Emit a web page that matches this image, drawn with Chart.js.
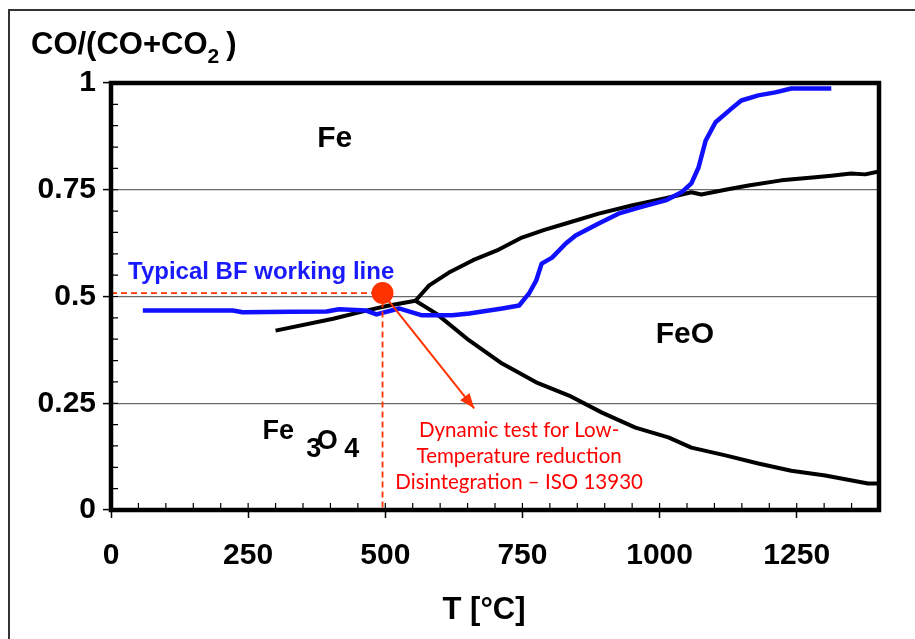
<!DOCTYPE html>
<html>
<head>
<meta charset="utf-8">
<script src="https://cdn.jsdelivr.net/npm/chart.js@4/dist/chart.umd.min.js"></script>
<style>
  html, body { margin: 0; padding: 0; background: #fff; }
  canvas { display: block; }
</style>
</head>
<body>
<canvas id="c" width="915" height="639"></canvas>
<script>
// Phase boundaries of the Fe–O–C system: T [°C] vs CO/(CO+CO2)
const fe3o4FeT = [300, 405, 465, 507, 555];
const fe3o4FeV = [0.420, 0.448, 0.467, 0.479, 0.490];

const feoFeT = [555, 580, 616, 660, 707, 749, 790, 829, 889, 949, 1011, 1058, 1076, 1120, 1162, 1222, 1284, 1313, 1349, 1375, 1400];
const feoFeV = [0.490, 0.526, 0.556, 0.585, 0.610, 0.638, 0.656, 0.671, 0.694, 0.713, 0.730, 0.744, 0.739, 0.750, 0.760, 0.772, 0.779, 0.783, 0.788, 0.786, 0.793];

const fe3o4FeoT = [555, 593, 653, 713, 775, 835, 895, 956, 1016, 1058, 1120, 1180, 1240, 1302, 1380, 1400];
const fe3o4FeoV = [0.490, 0.460, 0.397, 0.343, 0.299, 0.268, 0.228, 0.193, 0.170, 0.146, 0.128, 0.109, 0.092, 0.081, 0.062, 0.062];

// Gas composition along the blast furnace working line
const bfT = [58, 222, 240, 330, 393, 416, 465, 484, 525, 549, 567, 622, 653, 713, 744, 756, 762, 775, 785, 804, 829, 847, 889, 925, 962, 1011, 1040, 1058, 1071, 1084, 1102, 1131, 1149, 1180, 1211, 1240, 1253, 1313];
const bfV = [0.467, 0.467, 0.463, 0.464, 0.465, 0.470, 0.467, 0.458, 0.472, 0.463, 0.456, 0.456, 0.460, 0.472, 0.479, 0.498, 0.507, 0.537, 0.577, 0.591, 0.624, 0.643, 0.671, 0.694, 0.708, 0.725, 0.744, 0.765, 0.802, 0.865, 0.908, 0.940, 0.959, 0.971, 0.978, 0.987, 0.987, 0.987];

// LTD test condition and the arrow pointing to its description
const workPoint = [495, 0.508];
const arrowTip = [662, 0.238];

// Axis ticks
const xTickValues = [0, 250, 500, 750, 1000, 1250];
const yTickValues = [0, 0.25, 0.5, 0.75, 1];

const pts = (xs, ys) => xs.map((x, i) => ({ x, y: ys[i] }));

const FONT = '"Liberation Sans", Arial, sans-serif';
const RED = '#ff3300';

const decor = {
  id: 'decor',
  beforeDraw(chart) {
    const { ctx, width, height } = chart;
    ctx.save();
    ctx.fillStyle = '#fff';
    ctx.fillRect(0, 0, width, height);
    // outer frame
    ctx.strokeStyle = '#333';
    ctx.lineWidth = 2;
    ctx.beginPath();
    ctx.moveTo(9, height);
    ctx.lineTo(9, 10);
    ctx.lineTo(width, 10);
    ctx.stroke();
    ctx.restore();
  },
  afterDatasetsDraw(chart) {
    const { ctx, scales: { x, y } } = chart;
    // arrow head
    const x0 = x.getPixelForValue(workPoint[0]), y0 = y.getPixelForValue(workPoint[1]);
    const x1 = x.getPixelForValue(arrowTip[0]), y1 = y.getPixelForValue(arrowTip[1]);
    const a = Math.atan2(y1 - y0, x1 - x0);
    const L = 15, W = 6;
    ctx.save();
    ctx.fillStyle = RED;
    ctx.beginPath();
    ctx.moveTo(x1, y1);
    ctx.lineTo(x1 - L * Math.cos(a) + W * Math.sin(a), y1 - L * Math.sin(a) - W * Math.cos(a));
    ctx.lineTo(x1 - L * Math.cos(a) - W * Math.sin(a), y1 - L * Math.sin(a) + W * Math.cos(a));
    ctx.closePath();
    ctx.fill();
    ctx.restore();
  },
  afterDraw(chart) {
    const { ctx, chartArea: ca, scales: { x, y } } = chart;
    ctx.save();
    // minor ticks pointing into the plot
    ctx.strokeStyle = '#000';
    ctx.lineWidth = 1.2;
    ctx.beginPath();
    for (let t = 50; t < 1400; t += 50) {
      const px = x.getPixelForValue(t);
      ctx.moveTo(px, ca.bottom);
      ctx.lineTo(px, ca.bottom - 7);
    }
    for (let v = 0.05; v < 0.999; v += 0.05) {
      const py = y.getPixelForValue(v);
      ctx.moveTo(ca.left, py);
      ctx.lineTo(ca.left + 7, py);
    }
    ctx.stroke();

    // plot frame
    ctx.lineWidth = 4.5;
    ctx.strokeStyle = '#000';
    ctx.strokeRect(ca.left, ca.top, ca.right - ca.left, ca.bottom - ca.top);

    const P = (t, v) => [x.getPixelForValue(t), y.getPixelForValue(v)];
    ctx.textBaseline = 'alphabetic';
    ctx.textAlign = 'left';
    ctx.fillStyle = '#000';

    // phase field labels
    ctx.font = 'bold 30px ' + FONT;
    let p = P(376, 0.851); ctx.fillText('Fe', p[0], p[1]);
    p = P(993, 0.390); ctx.fillText('FeO', p[0], p[1]);
    ctx.font = 'bold 27px ' + FONT;
    p = P(276, 0.167); ctx.fillText('Fe', p[0], p[1]);
    p = P(356, 0.123); ctx.fillText('3', p[0], p[1]);
    p = P(375, 0.144); ctx.fillText('O', p[0], p[1]);
    p = P(425, 0.123); ctx.fillText('4', p[0], p[1]);

    // working line label
    ctx.fillStyle = '#1a1aff';
    ctx.font = 'bold 24px ' + FONT;
    p = P(31, 0.540); ctx.fillText('Typical BF working line', p[0], p[1]);

    // LTD test description
    ctx.fillStyle = '#ff0000';
    ctx.textAlign = 'center';
    ctx.font = '20.5px Lato, "Open Sans", sans-serif';
    p = P(744, 0.172); ctx.fillText('Dynamic test for Low-', p[0], p[1]);
    p = P(744, 0.111); ctx.fillText('Temperature reduction', p[0], p[1]);
    p = P(744, 0.050); ctx.fillText('Disintegration \u2013 ISO 13930', p[0], p[1]);

    // axis titles
    ctx.fillStyle = '#000';
    ctx.textAlign = 'left';
    ctx.font = 'bold 31px ' + FONT;
    const t1 = 'CO/(CO+CO';
    ctx.fillText(t1, 31, 54);
    const w = ctx.measureText(t1).width;
    ctx.font = 'bold 21px ' + FONT;
    ctx.fillText('2', 31 + w, 63);
    const w2 = ctx.measureText('2').width;
    ctx.font = 'bold 31px ' + FONT;
    ctx.fillText(')', 31 + w + w2 + 7, 54);

    ctx.textAlign = 'center';
    ctx.fillText('T [\u00B0C]', 484, 619);
    ctx.restore();
  }
};

new Chart(document.getElementById('c'), {
  type: 'line',
  data: {
    datasets: [
      { data: [{ x: workPoint[0], y: workPoint[1] }], showLine: false, pointRadius: 11, pointBackgroundColor: RED, pointBorderWidth: 0, order: 0 },
      { data: [{ x: workPoint[0], y: workPoint[1] }, { x: arrowTip[0], y: arrowTip[1] }], borderColor: RED, borderWidth: 2, pointRadius: 0, order: 1 },
      { data: [{ x: 0, y: workPoint[1] }, { x: workPoint[0], y: workPoint[1] }, { x: workPoint[0], y: 0 }], borderColor: RED, borderWidth: 1.8, borderDash: [6, 4], pointRadius: 0, order: 2 },
      { data: pts(bfT, bfV), borderColor: '#1010ff', borderWidth: 4.5, pointRadius: 0, order: 3 },
      { data: pts(fe3o4FeT, fe3o4FeV), borderColor: '#000', borderWidth: 4, pointRadius: 0, order: 4 },
      { data: pts(feoFeT, feoFeV), borderColor: '#000', borderWidth: 4, pointRadius: 0, order: 4 },
      { data: pts(fe3o4FeoT, fe3o4FeoV), borderColor: '#000', borderWidth: 4, pointRadius: 0, order: 4 }
    ]
  },
  options: {
    responsive: false,
    animation: false,
    devicePixelRatio: 1,
    layout: { padding: { left: 0, top: 83, right: 36, bottom: 0 } },
    elements: { line: { tension: 0, borderCapStyle: 'butt', borderJoinStyle: 'round' } },
    plugins: { legend: { display: false }, tooltip: { enabled: false } },
    scales: {
      x: {
        type: 'linear', min: 0, max: 1400,
        afterFit: s => { s.height = 129; },
        afterBuildTicks: s => { s.ticks = xTickValues.map(v => ({ value: v })); },
        ticks: { color: '#000', font: { family: FONT, weight: 'bold', size: 30 }, padding: 20, maxRotation: 0, callback: v => String(v) },
        grid: { drawOnChartArea: false, drawTicks: true, tickLength: 8, tickColor: '#000', tickWidth: 1.5 },
        border: { display: false }
      },
      y: {
        type: 'linear', min: 0, max: 1,
        afterFit: s => { s.width = 111; },
        afterBuildTicks: s => { s.ticks = yTickValues.map(v => ({ value: v })); },
        ticks: { color: '#000', font: { family: FONT, weight: 'bold', size: 30 }, padding: 7, callback: v => String(v) },
        grid: {
          drawTicks: true, tickLength: 8, tickColor: '#000', tickWidth: 1.5,
          lineWidth: 1.2,
          color: c => (c.tick && (c.tick.value === 0 || c.tick.value === 1)) ? 'rgba(0,0,0,0)' : '#6a6a6a'
        },
        border: { display: false }
      }
    }
  },
  plugins: [decor]
});
</script>
</body>
</html>
